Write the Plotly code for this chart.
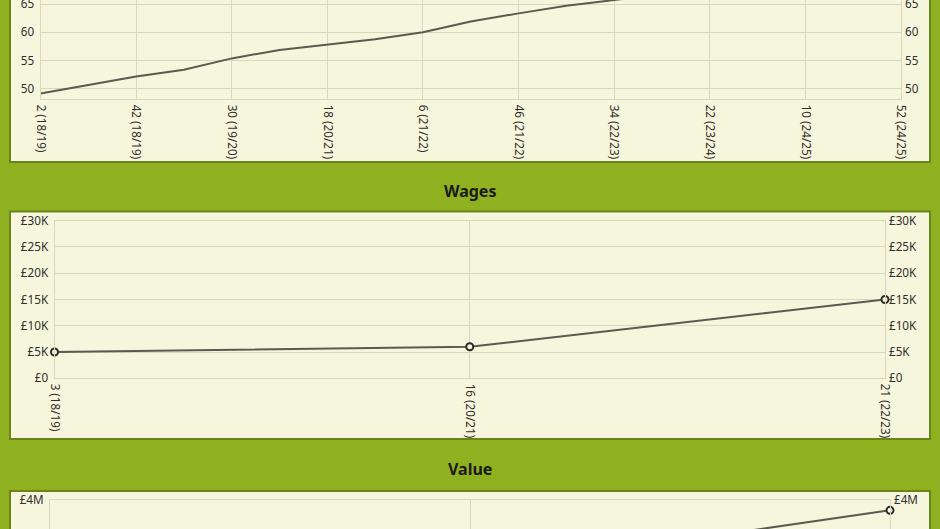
import plotly.graph_objects as go

# ---------------- data ----------------
# Top chart (cut off at the top): index of points, ticks every 40
top_tick_idx = [0, 40, 80, 120, 160, 200, 240, 280, 320, 360]
top_tick_labels = ["2 (18/19)", "42 (18/19)", "30 (19/20)", "18 (20/21)", "6 (21/22)",
                   "46 (21/22)", "34 (22/23)", "22 (23/24)", "10 (24/25)", "52 (24/25)"]
top_x = [0, 20, 40, 60, 80, 100, 120, 140, 160, 180, 200, 220, 240, 280, 320, 360]
top_y = [49.2, 50.7, 52.2, 53.4, 55.4, 56.9, 57.8, 58.8, 60.0, 61.9, 63.35, 64.7, 65.7, 68.0, 70.0, 71.5]
top_yticks = [50, 55, 60, 65]

wages_labels = ["3 (18/19)", "16 (20/21)", "21 (22/23)"]
wages_values = [5000, 6000, 15000]
wages_ticks = [0, 5000, 10000, 15000, 20000, 25000, 30000]
wages_ticktext = ["£0", "£5K", "£10K", "£15K", "£20K", "£25K", "£30K"]

value_labels = ["3 (18/19)", "16 (20/21)", "21 (22/23)"]
value_values = [1000000, 2150000, 3730000]
value_ticks = [0, 1000000, 2000000, 3000000, 4000000]
value_ticktext = ["£0", "£1M", "£2M", "£3M", "£4M"]

# ---------------- styling ----------------
W, H = 940, 529
GREEN = "#8fb11f"
PANEL = "#f6f6dc"
BORDER = "#69841a"
GRID = "#d8d8c2"
LINE = "#5a5a4e"
TXT = "#2e2e2e"
FONT = "Noto Sans"

def py(p):
    return 1 - p / H

def px(p):
    return p / W

fig = go.Figure()

# top chart
fig.add_trace(go.Scatter(x=top_x, y=top_y, mode="lines", xaxis="x", yaxis="y",
                         line=dict(color=LINE, width=2), hoverinfo="skip", showlegend=False))
fig.add_trace(go.Scatter(x=top_x, y=top_y, mode="lines", xaxis="x", yaxis="y2",
                         line=dict(color=LINE, width=0), opacity=0, hoverinfo="skip", showlegend=False))

# wages
fig.add_trace(go.Scatter(x=wages_labels, y=wages_values, mode="lines+markers", xaxis="x2", yaxis="y3",
                         line=dict(color=LINE, width=2),
                         marker=dict(symbol="circle", size=7, color=PANEL, line=dict(color="#2a2a2a", width=2)),
                         cliponaxis=False, hoverinfo="skip", showlegend=False))
fig.add_trace(go.Scatter(x=wages_labels, y=wages_values, mode="lines", xaxis="x2", yaxis="y4",
                         line=dict(width=0), opacity=0, hoverinfo="skip", showlegend=False))

# value
fig.add_trace(go.Scatter(x=value_labels, y=value_values, mode="lines+markers", xaxis="x3", yaxis="y5",
                         line=dict(color=LINE, width=2),
                         marker=dict(symbol="circle", size=7, color=PANEL, line=dict(color="#2a2a2a", width=2)),
                         cliponaxis=False, hoverinfo="skip", showlegend=False))
fig.add_trace(go.Scatter(x=value_labels, y=value_values, mode="lines", xaxis="x3", yaxis="y6",
                         line=dict(width=0), opacity=0, hoverinfo="skip", showlegend=False))

tickfont = dict(family=FONT, size=11.7, color=TXT)

def xax(domain, anchor, **kw):
    d = dict(domain=domain, anchor=anchor, showgrid=True, gridcolor=GRID, gridwidth=1,
             showline=True, linecolor=GRID, linewidth=1, mirror=True, zeroline=False,
             tickangle=90, tickfont=tickfont, ticks="", automargin=False, fixedrange=True,
             ticklabelstandoff=2, ticklabeloverflow="allow")
    d.update(kw)
    return d

def yax(domain, anchor, rng, tv, tt, **kw):
    d = dict(domain=domain, anchor=anchor, range=rng, tickvals=tv, ticktext=tt,
             showgrid=True, gridcolor=GRID, gridwidth=1, showline=True, linecolor=GRID,
             linewidth=1, mirror=True, zeroline=False, tickfont=tickfont, ticks="",
             automargin=False, fixedrange=True, ticklabelstandoff=3, ticklabeloverflow="allow")
    d.update(kw)
    return d

def yax_right(overlay, anchor, rng, tv, tt):
    return dict(overlaying=overlay, anchor=anchor, side="right", range=rng, tickvals=tv, ticktext=tt,
                showgrid=False, showline=False, zeroline=False, tickfont=tickfont, ticks="",
                automargin=False, fixedrange=True, ticklabelstandoff=3, ticklabeloverflow="allow")

top_rng = [48.18, 65.71]
wages_rng = [0, 30000]
value_rng = [3244000, 4013000]

fig.update_layout(
    width=W, height=H, autosize=False,
    margin=dict(l=0, r=0, t=0, b=0),
    paper_bgcolor=GREEN, plot_bgcolor=PANEL,
    font=dict(family=FONT, color=TXT),
    xaxis=xax([px(40.5), px(901)], "y", range=[0, 360], tickvals=top_tick_idx, ticktext=top_tick_labels),
    yaxis=yax([py(99.3), 1], "x", top_rng, top_yticks, [str(v) for v in top_yticks]),
    yaxis2=yax_right("y", "x", top_rng, top_yticks, [str(v) for v in top_yticks]),
    xaxis2=xax([px(54.5), px(885)], "y3", type="category", range=[0, 2]),
    yaxis3=yax([py(378.3), py(220.7)], "x2", wages_rng, wages_ticks, wages_ticktext),
    yaxis4=yax_right("y3", "x2", wages_rng, wages_ticks, wages_ticktext),
    xaxis3=xax([px(50), px(890)], "y5", type="category", range=[0, 2], showticklabels=False),
    yaxis5=yax([0, py(499.5)], "x3", value_rng, value_ticks, value_ticktext),
    yaxis6=yax_right("y5", "x3", value_rng, value_ticks, value_ticktext),
    shapes=[
        dict(type="rect", xref="paper", yref="paper", x0=px(10), x1=px(930), y0=py(162), y1=py(-5),
             fillcolor=PANEL, line=dict(color=BORDER, width=2), layer="below"),
        dict(type="rect", xref="paper", yref="paper", x0=px(10), x1=px(930), y0=py(439), y1=py(211.5),
             fillcolor=PANEL, line=dict(color=BORDER, width=2), layer="below"),
        dict(type="rect", xref="paper", yref="paper", x0=px(10), x1=px(930), y0=py(545), y1=py(491),
             fillcolor=PANEL, line=dict(color=BORDER, width=2), layer="below"),
    ],
    annotations=[
        dict(text="<b>Wages</b>", x=0.5, y=py(191), xref="paper", yref="paper", showarrow=False,
             font=dict(family=FONT, size=16, color="#1a1a1a"), xanchor="center", yanchor="middle"),
        dict(text="<b>Value</b>", x=0.5, y=py(469), xref="paper", yref="paper", showarrow=False,
             font=dict(family=FONT, size=16, color="#1a1a1a"), xanchor="center", yanchor="middle"),
    ],
)

fig.write_html("out.html", config={"displayModeBar": False, "staticPlot": True},
               post_script="document.body.style.margin='0';document.body.style.overflow='hidden';")
